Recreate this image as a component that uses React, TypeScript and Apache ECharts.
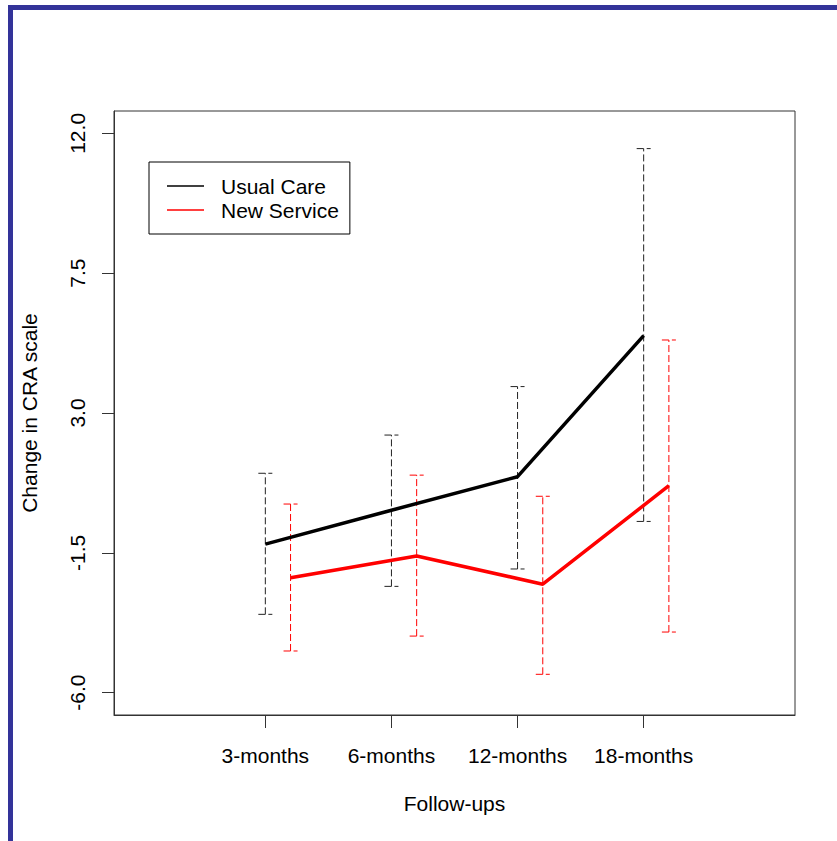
import React, { useEffect, useRef } from "react";
import * as echarts from "echarts";

const months = ["3-months", "6-months", "12-months", "18-months"];
const usualMean = [-1.22, -0.13, 0.95, 5.49];
const usualLow = [-3.48, -2.58, -2.02, -0.49];
const usualHigh = [1.06, 2.29, 3.85, 11.51];
const newMean = [-2.3, -1.6, -2.51, 0.66];
const newLow = [-4.66, -4.18, -5.41, -4.05];
const newHigh = [0.07, 1.0, 0.32, 5.35];
const yTicks = [-6, -1.5, 3, 7.5, 12];
const newOffset = 0.2;

export default function App() {
  const ref = useRef<HTMLDivElement>(null);
  useEffect(() => {
    if (!ref.current) return;
    const chart = echarts.init(ref.current, null, { renderer: "svg" });
    const xs = months.map((_, i) => i + 1);
    const font = "Liberation Sans, Arial, sans-serif";
    const errRender = (color: string) => (params: any, api: any) => {
      const x = api.value(0);
      const lo = api.coord([x, api.value(1)]);
      const hi = api.coord([x, api.value(2)]);
      const cap = 7;
      const style = { stroke: color, lineWidth: 1, lineDash: [7, 3] };
      return {
        type: "group",
        children: [
          { type: "line", shape: { x1: lo[0], y1: lo[1], x2: hi[0], y2: hi[1] }, style },
          { type: "line", shape: { x1: hi[0] - cap, y1: hi[1], x2: hi[0] + cap, y2: hi[1] }, style },
          { type: "line", shape: { x1: lo[0] - cap, y1: lo[1], x2: lo[0] + cap, y2: lo[1] }, style },
        ],
      };
    };
    const axisLineStyle = { color: "#333", width: 1 };
    chart.setOption({
      animation: false,
      backgroundColor: "#ffffff",
      textStyle: { fontFamily: font },
      grid: {
        left: 114,
        top: 111,
        right: 42,
        bottom: 126,
        show: true,
        borderColor: "#333",
        borderWidth: 1,
        containLabel: false,
      },
      graphic: [
        { type: "rect", shape: { x: 8, y: 5, width: 829, height: 5 }, style: { fill: "#333399" } },
        { type: "rect", shape: { x: 8, y: 5, width: 5, height: 836 }, style: { fill: "#333399" } },
      ],
      legend: {
        orient: "vertical",
        left: 149,
        top: 162,
        padding: [13, 11, 13, 18],
        borderColor: "#000",
        borderWidth: 1,
        itemWidth: 37,
        itemHeight: 1.5,
        itemGap: 2,
        icon: "rect",
        textStyle: { fontSize: 21, lineHeight: 22, color: "#000", fontFamily: font, padding: [0, 0, 0, 12] },
        data: ["Usual Care", "New Service"],
      },
      xAxis: {
        type: "value",
        min: -0.2,
        max: 5.2,
        name: "Follow-ups",
        nameLocation: "middle",
        nameGap: 78,
        nameTextStyle: { fontSize: 21, color: "#000", fontFamily: font },
        axisLine: { show: true, onZero: false, lineStyle: axisLineStyle },
        splitLine: { show: false },
        axisTick: { show: true, inside: false, length: 13, customValues: xs, lineStyle: axisLineStyle },
        axisLabel: {
          customValues: xs,
          margin: 30,
          fontSize: 21,
          color: "#000",
          fontFamily: font,
          formatter: (v: number) => months[Math.round(v) - 1] ?? "",
        },
      },
      yAxis: {
        type: "value",
        min: -6.72,
        max: 12.72,
        name: "Change in CRA scale",
        nameLocation: "middle",
        nameRotate: 90,
        nameGap: 74,
        nameTextStyle: { fontSize: 21, color: "#000", fontFamily: font },
        axisLine: { show: true, onZero: false, lineStyle: axisLineStyle },
        splitLine: { show: false },
        axisTick: { show: true, inside: false, length: 12, customValues: yTicks, lineStyle: axisLineStyle },
        axisLabel: {
          customValues: yTicks,
          rotate: 90,
          margin: 26,
          fontSize: 21,
          color: "#000",
          fontFamily: font,
          formatter: (v: number) => v.toFixed(1),
        },
      },
      series: [
        {
          name: "Usual Care",
          type: "line",
          data: xs.map((x, i) => [x, usualMean[i]]),
          symbol: "none",
          lineStyle: { color: "#000", width: 3.5 },
          itemStyle: { color: "#000" },
          z: 3,
        },
        {
          name: "New Service",
          type: "line",
          data: xs.map((x, i) => [x + newOffset, newMean[i]]),
          symbol: "none",
          lineStyle: { color: "#ff0000", width: 3.5 },
          itemStyle: { color: "#ff0000" },
          z: 3,
        },
        {
          name: "usualErr",
          type: "custom",
          renderItem: errRender("#222"),
          data: xs.map((x, i) => [x, usualLow[i], usualHigh[i]]),
          encode: { x: 0, y: [1, 2] },
          z: 1,
          silent: true,
        },
        {
          name: "newErr",
          type: "custom",
          renderItem: errRender("#ff0000"),
          data: xs.map((x, i) => [x + newOffset, newLow[i], newHigh[i]]),
          encode: { x: 0, y: [1, 2] },
          z: 1,
          silent: true,
        },
      ],
    });
    return () => chart.dispose();
  }, []);
  return (
    <div
      ref={ref}
      style={{ position: "fixed", left: 0, top: 0, width: 837, height: 841 }}
    />
  );
}
